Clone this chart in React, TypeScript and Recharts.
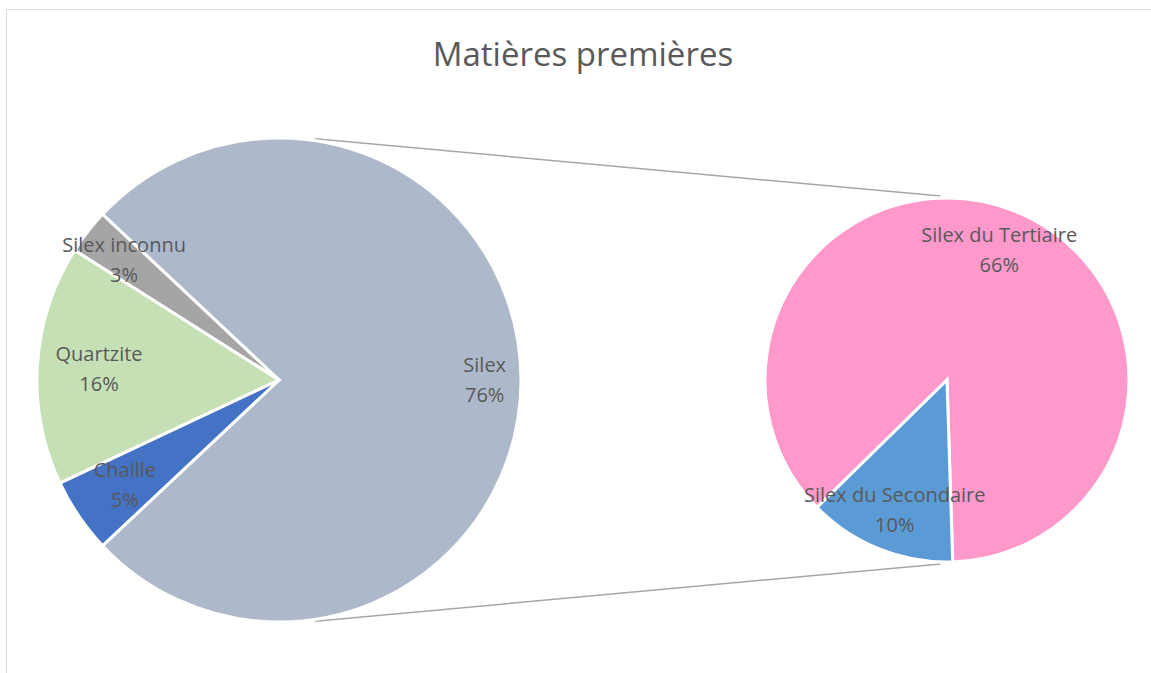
import { PieChart, Pie, Cell, Customized } from "recharts";

const mainNames = ["Silex", "Silex inconnu", "Quartzite", "Chaille"];
const mainValues = [76, 3, 16, 5];
const subNames = ["Silex du Tertiaire", "Silex du Secondaire"];
const subValues = [66, 10];

const MAIN_COLORS = ["#ADB9CA", "#A5A5A5", "#C5E0B4", "#4472C4"];
const SUB_COLORS = ["#FF99CC", "#5B9BD5"];

// label distance from centre, as a share of the radius
const LABEL_RADIUS: Record<string, number> = {
  Silex: 0.85,
  "Silex inconnu": 0.81,
  Quartzite: 0.745,
  Chaille: 0.77,
};

const W = 1151;
const H = 673;
const MAIN = { cx: 279, cy: 380, r: 242 };
const SUB = { cx: 947, cy: 380, r: 182 };
const RAD = Math.PI / 180;
const FONT = "'Open Sans', 'Noto Sans', sans-serif";

const mainData = mainNames.map((name, i) => ({ name, value: mainValues[i] }));
const subData = subNames.map((name, i) => ({ name, value: subValues[i] }));

// Silex sits centred on the right, the rest follow counter-clockwise
const mainSpan = (mainValues[0] / 100) * 360;
const mainStart = -mainSpan / 2;

const renderLabel = (props: any) => {
  const { cx, cy, midAngle, outerRadius, name, value } = props;
  const f = LABEL_RADIUS[name] ?? 0.77;
  const r = outerRadius * f;
  const x = cx + r * Math.cos(-midAngle * RAD);
  const y = cy + r * Math.sin(-midAngle * RAD);
  return (
    <text x={x} y={y} textAnchor="middle" fill="#595959" fontSize={20} fontFamily={FONT}>
      <tspan x={x} y={y - 8}>{name}</tspan>
      <tspan x={x} y={y + 22}>{value}%</tspan>
    </text>
  );
};

function Connectors() {
  const a1 = 81.5 * RAD;
  const a2 = 92 * RAD;
  const r1 = MAIN.r + 2;
  const r2 = SUB.r + 2;
  const x1 = MAIN.cx + r1 * Math.cos(a1);
  const x2 = SUB.cx + r2 * Math.cos(a2);
  return (
    <g stroke="#A6A6A6" strokeWidth={1.5}>
      <line x1={x1} y1={MAIN.cy - r1 * Math.sin(a1)} x2={x2} y2={SUB.cy - r2 * Math.sin(a2)} />
      <line x1={x1} y1={MAIN.cy + r1 * Math.sin(a1)} x2={x2} y2={SUB.cy + r2 * Math.sin(a2)} />
    </g>
  );
}

export default function App() {
  return (
    <div style={{ position: "absolute", left: 0, top: 0, width: W, height: H, background: "#fff", overflow: "hidden" }}>
      <div
        style={{
          position: "absolute",
          left: 6,
          top: 9,
          width: W,
          height: H,
          border: "1.5px solid #D9D9D9",
        }}
      />
      <div
        style={{
          position: "absolute",
          left: 0,
          top: 31,
          width: 1166,
          textAlign: "center",
          fontFamily: FONT,
          fontSize: 33,
          lineHeight: "46px",
          color: "#595959",
        }}
      >
        Matières premières
      </div>
      <div style={{ position: "absolute", left: 0, top: 0 }}>
        <PieChart width={W} height={H} margin={{ top: 0, right: 0, bottom: 0, left: 0 }}>
          <Customized component={Connectors} />
          <Pie
            data={mainData}
            dataKey="value"
            nameKey="name"
            cx={MAIN.cx}
            cy={MAIN.cy}
            outerRadius={MAIN.r}
            startAngle={mainStart}
            endAngle={mainStart + 360}
            stroke="#fff"
            strokeWidth={3}
            label={renderLabel}
            labelLine={false}
            isAnimationActive={false}
          >
            {mainData.map((d, i) => (
              <Cell key={d.name} fill={MAIN_COLORS[i]} />
            ))}
          </Pie>
          <Pie
            data={subData}
            dataKey="value"
            nameKey="name"
            cx={SUB.cx}
            cy={SUB.cy}
            outerRadius={SUB.r}
            startAngle={-88.2}
            endAngle={271.8}
            stroke="#fff"
            strokeWidth={3}
            label={renderLabel}
            labelLine={false}
            isAnimationActive={false}
          >
            {subData.map((d, i) => (
              <Cell key={d.name} fill={SUB_COLORS[i]} />
            ))}
          </Pie>
        </PieChart>
      </div>
    </div>
  );
}
